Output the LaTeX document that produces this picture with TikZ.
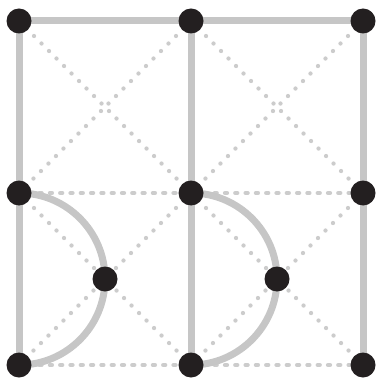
\documentclass[tikz,border=0pt]{standalone}
\begin{document}
\begin{tikzpicture}[x=1pt,y=-1pt,
  dot/.style={circle,draw=none,minimum size=25pt,inner sep=0pt},
  solidline/.style={draw=gray!45,line width=7pt},
  dotline/.style={draw=gray!40,line width=4.3pt,line cap=round,dash pattern=on 0.01pt off 10.6pt},
  dashline/.style={draw=gray!40,line width=4.3pt,line cap=round,dash pattern=on 2pt off 8.3pt}]
\definecolor{nodeblack}{HTML}{231F20}
\tikzset{dot/.append style={fill=nodeblack}}
\useasboundingbox (0,0) rectangle (378,379);
\coordinate (a1) at (19,21);
\coordinate (a2) at (191,21);
\coordinate (a3) at (363,21);
\coordinate (b1) at (19,193);
\coordinate (b2) at (191,193);
\coordinate (b3) at (363,193);
\coordinate (c1) at (105,279);
\coordinate (c2) at (277,279);
\coordinate (d1) at (19,365);
\coordinate (d2) at (191,365);
\coordinate (d3) at (363,365);
% dotted
\draw[dotline] (a1) -- (b2);
\draw[dotline] (a2) -- (b1);
\draw[dotline] (a2) -- (b3);
\draw[dotline] (a3) -- (b2);
\draw[dotline] (b1) -- (d2);
\draw[dotline] (b2) -- (d1);
\draw[dotline] (b2) -- (d3);
\draw[dotline] (b3) -- (d2);
\draw[dashline] (b1) -- (b3);
\draw[dashline] (d1) -- (d3);
% solid
\draw[solidline] (a1) -- (a3);
\draw[solidline] (a1) -- (d1);
\draw[solidline] (a2) -- (d2);
\draw[solidline] (a3) -- (d3);
\draw[solidline] (b1) arc[start angle=-90,end angle=90,radius=86];
\draw[solidline] (b2) arc[start angle=-90,end angle=90,radius=86];
% nodes
\foreach \n in {a1,a2,a3,b1,b2,b3,c1,c2,d1,d2,d3}
  \node[dot] (n\n) at (\n) {};
\end{tikzpicture}
\end{document}
